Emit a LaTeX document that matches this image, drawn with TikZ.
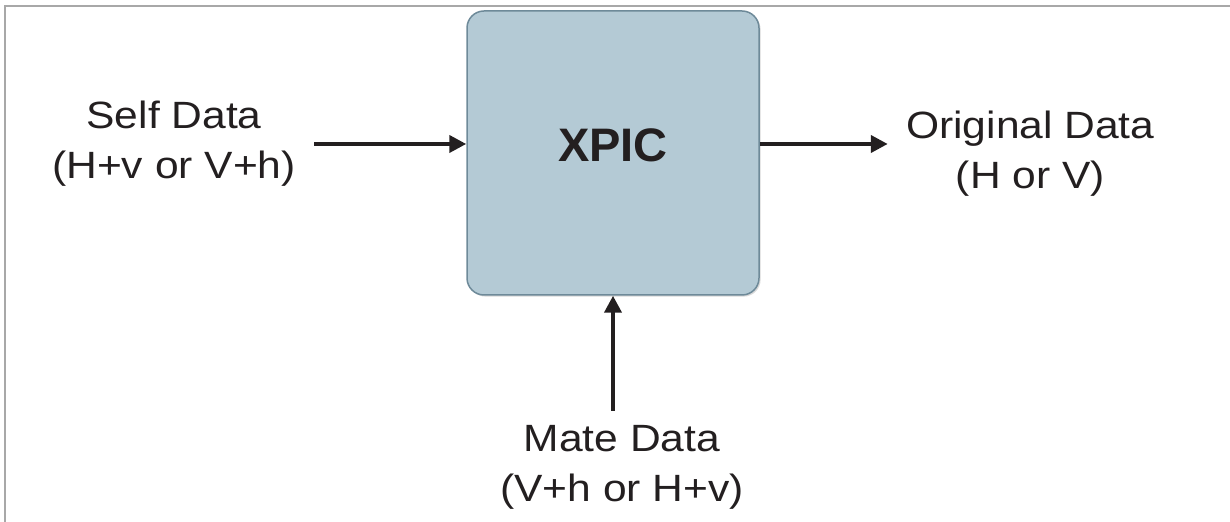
\documentclass[tikz,border=0pt]{standalone}
\usepackage{fontspec}
\setmainfont{Liberation Sans}
\newfontfamily\datafont[FakeStretch=1.12]{Liberation Sans}
\usepackage{tikz}
\usetikzlibrary{arrows.meta, positioning, shadows}
\definecolor{boxfill}{RGB}{180,202,213}
\definecolor{boxline}{RGB}{110,138,153}
\definecolor{inkdark}{RGB}{35,31,32}
\definecolor{framegray}{RGB}{168,168,168}
\tikzstyle{block} = [rectangle, rounded corners=8.5pt, minimum width=146pt, minimum height=142pt, draw=boxline, line width=0.75pt, fill=boxfill, text=inkdark, font=\bfseries\fontsize{23.5}{28}\selectfont, text depth=8pt, drop shadow={shadow xshift=0.8pt, shadow yshift=-0.8pt, opacity=0.25, fill=black!60}]
\tikzstyle{datatext} = [align=center, text=inkdark, inner xsep=9pt, inner ysep=7pt, font=\datafont\fontsize{19}{25}\selectfont]
\tikzstyle{arrow} = [line width=2pt, draw=inkdark, -{Triangle[length=8.5pt,width=8.5pt]}]

\begin{document}
\begin{tikzpicture}[x=0.5pt, y=-0.5pt]
\useasboundingbox (0,0) rectangle (1230,522);

% Frame
\draw [framegray, line width=0.75pt] (5,522) -- (5,6) -- (1230,6);

% Canceller
\node (xpic) [block] at (613,153) {XPIC};

% Inputs and output
\node (self) [datatext, left=76pt of xpic, yshift=4.5pt] {Self Data\\(H+v or V+h)};
\node (orig) [datatext, right=64pt of xpic, yshift=-0.5pt] {Original Data\\(H or V)};
\node (mate) [datatext, below=57.5pt of xpic, xshift=4.5pt] {Mate Data\\(V+h or H+v)};

% Connections
\draw [arrow] (self.east) -- (self.east -| xpic.west);
\draw [arrow] (xpic.east |- self.east) -- (orig.west |- self.east);
\draw [arrow] (xpic.south |- mate.north) -- (xpic.south);

\end{tikzpicture}
\end{document}
